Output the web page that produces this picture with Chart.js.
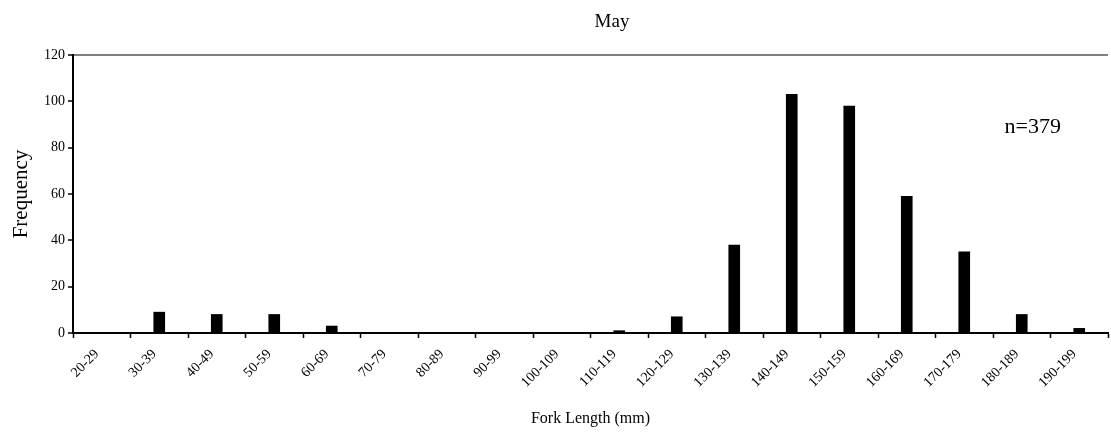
<!DOCTYPE html>
<html>
<head>
<meta charset="utf-8">
<title>May</title>
<script src="https://cdn.jsdelivr.net/npm/chart.js@4.4.0/dist/chart.umd.min.js"></script>
<style>
  html, body { margin: 0; padding: 0; background: #fff; }
  #wrap { width: 1111px; height: 444px; }
</style>
</head>
<body>
<div id="wrap"><canvas id="lengthChart"></canvas></div>
<script>
// fork length classes (mm) and catch counts for May
const lengthClasses = [
    '20-29', '30-39', '40-49', '50-59', '60-69', '70-79', '80-89', '90-99', '100-109',
    '110-119', '120-129', '130-139', '140-149', '150-159', '160-169', '170-179', '180-189', '190-199'
];
const frequency = [0, 9, 8, 8, 3, 0, 0, 0, 0, 1, 7, 38, 103, 98, 59, 35, 8, 2];
const sampleSize = 'n=379';
const yTicks = [0, 20, 40, 60, 80, 100, 120];

const serif = 'Liberation Serif, Times New Roman, serif';

// title and sample size are drawn as plain text on the canvas
const textLabels = {
    id: 'textLabels',
    afterDraw(chart) {
        const c = chart.ctx;
        const area = chart.chartArea;
        const y = chart.scales.y;
        c.save();
        c.fillStyle = '#000';
        c.textBaseline = 'middle';
        c.font = '19px ' + serif;
        c.textAlign = 'center';
        c.fillText('May', 612, 22);
        c.font = '22px ' + serif;
        c.textAlign = 'right';
        c.fillText(sampleSize, area.right - 47, y.getPixelForValue(89));
        c.restore();
    }
};

const ctx = document.getElementById('lengthChart');

new Chart(ctx, {
    type: 'bar',
    data: {
        labels: lengthClasses,
        datasets: [{
            label: 'Frequency',
            data: frequency,
            backgroundColor: '#000',
            borderWidth: 0,
            barThickness: 11
        }]
    },
    options: {
        responsive: true,
        maintainAspectRatio: false,
        animation: false,
        layout: { padding: { top: 55, right: 3, left: 0, bottom: 0 } },
        plugins: {
            legend: { display: false },
            tooltip: { enabled: false }
        },
        scales: {
            x: {
                offset: true,
                border: { display: true, color: '#000', width: 2 },
                grid: {
                    offset: true,
                    drawOnChartArea: false,
                    drawTicks: true,
                    tickLength: 5,
                    tickColor: '#000',
                    tickWidth: 1.5
                },
                ticks: {
                    color: '#000',
                    font: { family: serif, size: 14 },
                    minRotation: 45,
                    maxRotation: 45,
                    autoSkip: false,
                    padding: 8,
                    labelOffset: -5
                },
                title: {
                    display: true,
                    text: 'Fork Length (mm)',
                    color: '#000',
                    font: { family: serif, size: 16 },
                    padding: { top: 0, bottom: 16 }
                },
                afterFit(scale) { scale.height = 111; }
            },
            y: {
                min: 0,
                max: 120,
                afterBuildTicks(scale) {
                    scale.ticks = yTicks.map(v => ({ value: v }));
                },
                border: { display: true, color: '#000', width: 2 },
                grid: {
                    color: c => (c.tick && c.tick.value === 120 ? '#808080' : 'rgba(0,0,0,0)'),
                    lineWidth: 2,
                    drawTicks: true,
                    tickLength: 5,
                    tickColor: '#000',
                    tickWidth: 1.5
                },
                ticks: {
                    color: '#000',
                    font: { family: serif, size: 14 },
                    padding: 3
                },
                title: {
                    display: true,
                    text: 'Frequency',
                    color: '#000',
                    font: { family: serif, size: 21 },
                    padding: { top: 9, bottom: 0 }
                },
                afterFit(scale) { scale.width = 73; }
            }
        }
    },
    plugins: [textLabels]
});
</script>
</body>
</html>
